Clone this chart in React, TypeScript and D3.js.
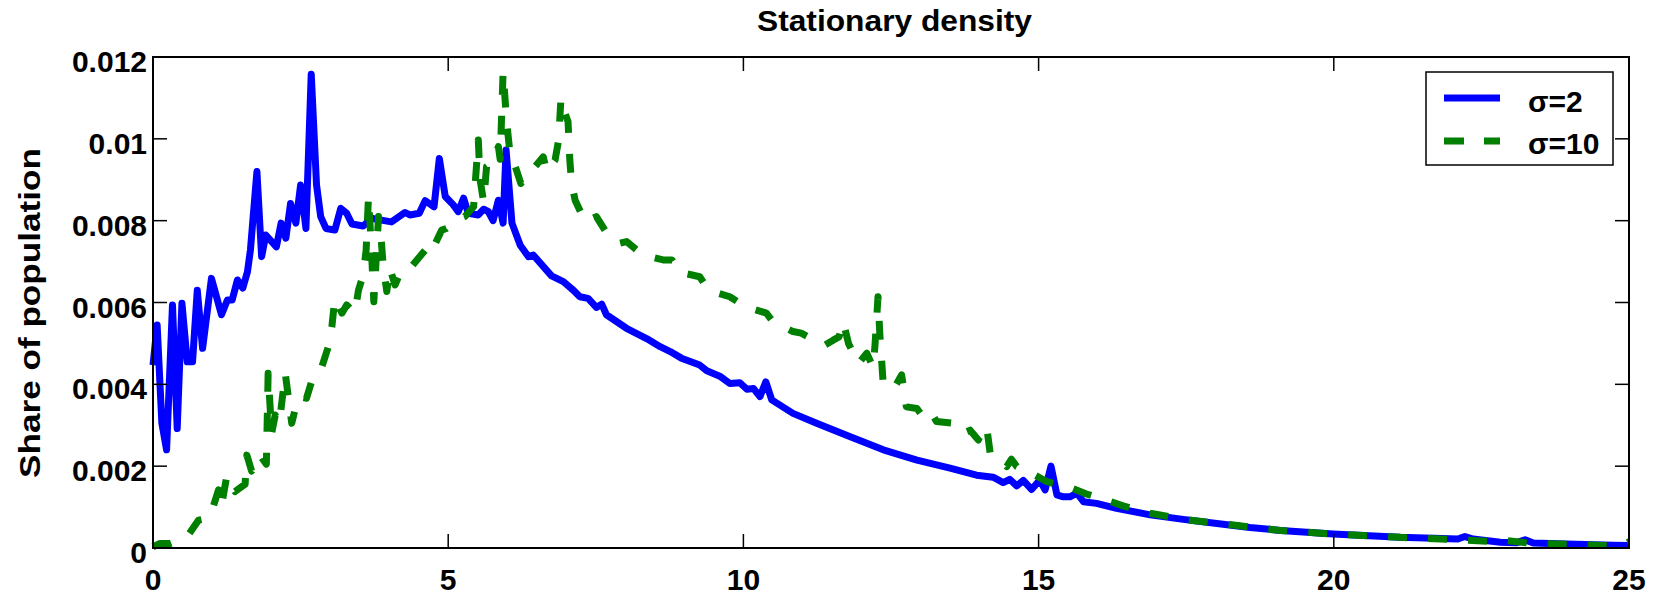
import React from "react";
import * as d3 from "d3";

const xTicks = [0, 5, 10, 15, 20, 25];
const yTicks = [0, 0.002, 0.004, 0.006, 0.008, 0.01, 0.012];
const yTickLabels = ["0", "0.002", "0.004", "0.006", "0.008", "0.01", "0.012"];
const seriesNames = ["σ=2", "σ=10"];

const sigma2X = [0.00,0.07,0.15,0.23,0.33,0.41,0.49,0.58,0.67,0.75,0.84,0.99,1.16,1.26,1.34,1.43,1.52,1.60,1.65,1.76,1.84,1.91,2.09,2.17,2.25,2.33,2.42,2.50,2.59,2.68,2.77,2.84,2.93,3.08,3.18,3.28,3.37,3.56,3.70,3.84,4.04,4.27,4.35,4.51,4.61,4.76,4.85,4.95,5.09,5.17,5.26,5.34,5.51,5.60,5.68,5.76,5.85,5.93,5.98,6.08,6.22,6.36,6.44,6.75,6.95,7.12,7.23,7.37,7.51,7.60,7.68,8.02,8.36,8.59,8.76,8.95,9.26,9.38,9.60,9.77,9.94,10.06,10.17,10.28,10.38,10.48,10.84,11.24,11.81,12.37,12.94,13.50,13.95,14.23,14.40,14.51,14.63,14.74,14.88,15.02,15.11,15.21,15.31,15.42,15.53,15.65,15.76,15.98,16.32,16.89,17.45,18.02,18.58,19.10,19.99,21.12,21.69,22.10,22.22,22.36,22.82,23.10,23.24,23.38,23.94,24.73,25.00];
const sigma2Y = [0.00447,0.00545,0.00305,0.00240,0.00594,0.00292,0.00598,0.00455,0.00455,0.00630,0.00488,0.00659,0.00570,0.00606,0.00606,0.00655,0.00635,0.00675,0.00728,0.00920,0.00712,0.00765,0.00736,0.00794,0.00757,0.00842,0.00794,0.00887,0.00781,0.01158,0.00887,0.00810,0.00781,0.00777,0.00830,0.00818,0.00792,0.00787,0.00806,0.00802,0.00797,0.00820,0.00814,0.00818,0.00849,0.00834,0.00952,0.00859,0.00838,0.00822,0.00855,0.00818,0.00814,0.00828,0.00822,0.00800,0.00850,0.00794,0.00973,0.00794,0.00740,0.00712,0.00716,0.00665,0.00651,0.00630,0.00614,0.00610,0.00588,0.00596,0.00570,0.00537,0.00512,0.00492,0.00480,0.00464,0.00447,0.00433,0.00420,0.00402,0.00404,0.00388,0.00390,0.00370,0.00406,0.00362,0.00329,0.00305,0.00272,0.00240,0.00215,0.00195,0.00178,0.00173,0.00160,0.00168,0.00152,0.00165,0.00143,0.00166,0.00142,0.00200,0.00130,0.00125,0.00125,0.00134,0.00113,0.00109,0.00097,0.00081,0.00070,0.00060,0.00050,0.00043,0.00034,0.00026,0.00024,0.00022,0.00028,0.00022,0.00014,0.00013,0.00020,0.00012,0.00010,0.00007,0.00006];

const sigma10X = [0.00,0.12,0.29,0.45,0.60,0.77,0.94,1.02,1.11,1.16,1.25,1.39,1.56,1.59,1.67,1.81,1.92,1.95,2.01,2.07,2.14,2.24,2.35,2.46,2.60,2.72,2.86,2.97,3.03,3.08,3.20,3.28,3.42,3.48,3.56,3.61,3.65,3.70,3.74,3.82,3.87,3.90,3.96,4.01,4.10,4.21,4.38,4.61,4.69,4.89,4.97,5.14,5.28,5.43,5.51,5.54,5.60,5.65,5.76,5.85,5.88,5.93,5.99,6.05,6.10,6.23,6.40,6.61,6.67,6.81,6.87,6.91,6.98,7.03,7.06,7.09,7.15,7.32,7.51,7.74,7.91,8.02,8.30,8.64,8.79,8.92,9.26,9.41,9.77,10.03,10.39,10.50,10.84,10.98,11.10,11.38,11.52,11.62,11.69,11.78,11.86,11.95,12.09,12.20,12.23,12.28,12.31,12.37,12.56,12.68,12.76,12.94,13.02,13.16,13.27,13.55,13.70,13.84,13.98,14.06,14.12,14.18,14.46,14.54,14.63,14.94,15.14,15.53,15.81,16.15,16.43,16.89,17.45,18.30,19.10,19.99,21.12,22.00,22.80,22.93,23.30,24.00,24.80,25.00];
const sigma10Y = [0.00003,0.00011,0.00011,0.00020,0.00032,0.00068,0.00073,0.00101,0.00142,0.00103,0.00176,0.00138,0.00156,0.00227,0.00188,0.00227,0.00205,0.00427,0.00280,0.00325,0.00305,0.00427,0.00305,0.00370,0.00366,0.00423,0.00443,0.00492,0.00541,0.00610,0.00574,0.00594,0.00574,0.00630,0.00667,0.00728,0.00859,0.00728,0.00602,0.00810,0.00745,0.00688,0.00627,0.00684,0.00643,0.00680,0.00688,0.00728,0.00716,0.00777,0.00781,0.00802,0.00810,0.00834,0.00997,0.00900,0.00846,0.00932,0.00944,0.00981,0.00950,0.01164,0.01042,0.00960,0.00948,0.00891,0.00920,0.00956,0.00920,0.00948,0.00997,0.01099,0.01062,0.01042,0.00948,0.00891,0.00850,0.00797,0.00810,0.00757,0.00745,0.00749,0.00716,0.00704,0.00704,0.00674,0.00663,0.00630,0.00614,0.00590,0.00574,0.00553,0.00529,0.00525,0.00516,0.00496,0.00508,0.00516,0.00553,0.00500,0.00476,0.00451,0.00476,0.00441,0.00498,0.00614,0.00525,0.00398,0.00392,0.00423,0.00345,0.00341,0.00325,0.00337,0.00309,0.00305,0.00280,0.00288,0.00264,0.00292,0.00297,0.00231,0.00199,0.00217,0.00199,0.00178,0.00162,0.00148,0.00132,0.00117,0.00103,0.00085,0.00070,0.00056,0.00043,0.00034,0.00026,0.00021,0.00015,0.00018,0.00012,0.00009,0.00005,0.00015];

const W = 1671;
const H = 601;
const left = 153, right = 1629, top = 57, bottom = 548;
const FONT = "'Liberation Sans', Arial, Helvetica, sans-serif";

export default function App() {
  const x = d3.scaleLinear().domain([0, 25]).range([left, right]);
  const y = d3.scaleLinear().domain([0, 0.012]).range([bottom, top]);
  const line = d3.line<[number, number]>().x(d => x(d[0])).y(d => y(d[1]));
  const blue = sigma2X.map((v, i) => [v, sigma2Y[i]] as [number, number]);
  const green = sigma10X.map((v, i) => [v, sigma10Y[i]] as [number, number]);
  const tl = 14;
  return (
    <svg width={W} height={H} style={{ position: "absolute", left: 0, top: 0, background: "#fff" }} fontFamily={FONT} fontWeight="bold">
      <rect x={0} y={0} width={W} height={H} fill="#fff" />
      <text x={757} y={31} fontSize={30} textLength={275} lengthAdjust="spacingAndGlyphs">Stationary density</text>
      <text transform={`translate(40,478) rotate(-90)`} fontSize={30} textLength={330} lengthAdjust="spacingAndGlyphs">Share of population</text>
      <path d={line(blue) || ""} fill="none" stroke="#0000ff" strokeWidth={7} strokeLinejoin="round" />
      <path d={line(green) || ""} fill="none" stroke="#007f00" strokeWidth={7} strokeDasharray="19,21" strokeLinejoin="round" />
      <rect x={left} y={top} width={right - left} height={bottom - top} fill="none" stroke="#000" strokeWidth={2} />
      {xTicks.map(t => (
        <g key={"x" + t}>
          <line x1={x(t)} x2={x(t)} y1={bottom} y2={bottom - tl} stroke="#000" strokeWidth={1.5} />
          <line x1={x(t)} x2={x(t)} y1={top} y2={top + tl} stroke="#000" strokeWidth={1.5} />
          <text x={x(t)} y={590} textAnchor="middle" fontSize={30}>{t}</text>
        </g>
      ))}
      {yTicks.map((t, i) => (
        <g key={"y" + t}>
          <line x1={left} x2={left + tl} y1={y(t)} y2={y(t)} stroke="#000" strokeWidth={1.5} />
          <line x1={right} x2={right - tl} y1={y(t)} y2={y(t)} stroke="#000" strokeWidth={1.5} />
          <text x={147} y={y(t) + 15} textAnchor="end" fontSize={30}>{yTickLabels[i]}</text>
        </g>
      ))}
      <rect x={1426} y={72} width={187} height={93} fill="#fff" stroke="#000" strokeWidth={1.5} />
      <line x1={1444} x2={1500} y1={98} y2={98} stroke="#0000ff" strokeWidth={7} />
      <line x1={1444} x2={1500} y1={141} y2={141} stroke="#007f00" strokeWidth={7} strokeDasharray="20,20" />
      <text x={1528} y={112} fontSize={30}>{seriesNames[0]}</text>
      <text x={1528} y={154} fontSize={30}>{seriesNames[1]}</text>
    </svg>
  );
}
